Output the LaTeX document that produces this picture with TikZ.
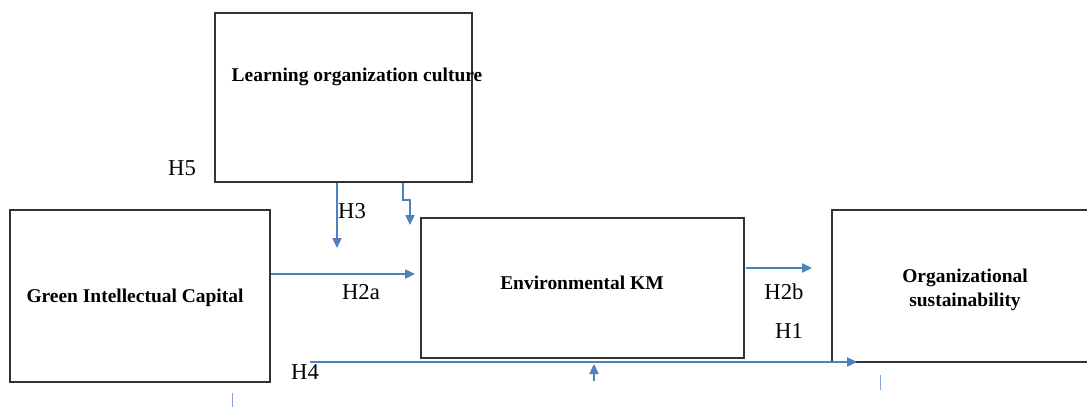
\documentclass[tikz,border=0pt]{standalone}
\usepackage{fontspec}
\setmainfont{Liberation Serif}
\usetikzlibrary{arrows.meta}
\definecolor{arr}{HTML}{4F81BD}
\definecolor{boxln}{HTML}{333333}
\begin{document}
\begin{tikzpicture}[x=0.75pt,y=-0.75pt,
  box/.style={draw=boxln,line width=0.8pt,rectangle,inner sep=0pt},
  btxt/.style={font=\fontsize{14.6}{18}\selectfont\bfseries,align=center},
  hlab/.style={font=\fontsize{17}{19}\selectfont,inner sep=0pt},
  conn/.style={draw=arr,line width=0.9pt,-{Triangle[length=7.5pt,width=7pt]}},
  tick/.style={draw=arr!70,line width=0.7pt}]
\useasboundingbox (0,0) rectangle (1087,407);
% boxes
\node[box,minimum width=257*0.75pt,minimum height=169*0.75pt] (loc) at (343.5,97.5) {};
\node[btxt] (loct) at (357,77) {Learning organization culture};
\node[box,minimum width=260*0.75pt,minimum height=172*0.75pt] (gic) at (140,296) {};
\node[btxt] (gict) at (135,298) {Green Intellectual Capital};
\node[box,minimum width=323*0.75pt,minimum height=140*0.75pt] (ekm) at (582.5,288) {};
\node[btxt] (ekmt) at (582,283) {Environmental KM};
\node[box,minimum width=262*0.75pt,minimum height=152*0.75pt] (os) at (963,286) {};
\node[btxt] (ost) at (965,290) {Organizational\\sustainability};
% labels
\node[hlab] (h5) at (182,168) {H5};
\node[hlab] (h3) at (352,211) {H3};
\node[hlab] (h2a) at (361,292) {H2a};
\node[hlab] (h2b) at (784,292) {H2b};
\node[hlab] (h1) at (789,331) {H1};
\node[hlab] (h4) at (305,372) {H4};
% coordinates
\coordinate (h3a) at (loc.south -| 337,0);
\coordinate (h3b) at (337,248);
\coordinate (ma) at (loc.south -| 403,0);
\coordinate (mb) at (403,200);
\coordinate (mc) at (410,200);
\coordinate (md) at (410,225);
\coordinate (g1) at (gic.east |- 0,274);
\coordinate (g2) at (415,274);
\coordinate (e1) at (746,268);
\coordinate (e2) at (812,268);
\coordinate (f1) at (310,362);
\coordinate (f2) at (857,362);
\coordinate (u1) at (594,381);
\coordinate (u2) at (594,364);
\coordinate (t1) at (232,393);
\coordinate (t2) at (232,407);
\coordinate (t3) at (880,375);
\coordinate (t4) at (880,390);
% connectors
\draw[conn] (h3a) -- (h3b);
\draw[conn] (ma) -- (mb) -- (mc) -- (md);
\draw[conn] (g1) -- (g2);
\draw[conn] (e1) -- (e2);
\draw[conn] (f1) -- (f2);
\draw[conn] (u1) -- (u2);
\draw[tick] (t1) -- (t2);
\draw[tick] (t3) -- (t4);
\end{tikzpicture}
\end{document}
